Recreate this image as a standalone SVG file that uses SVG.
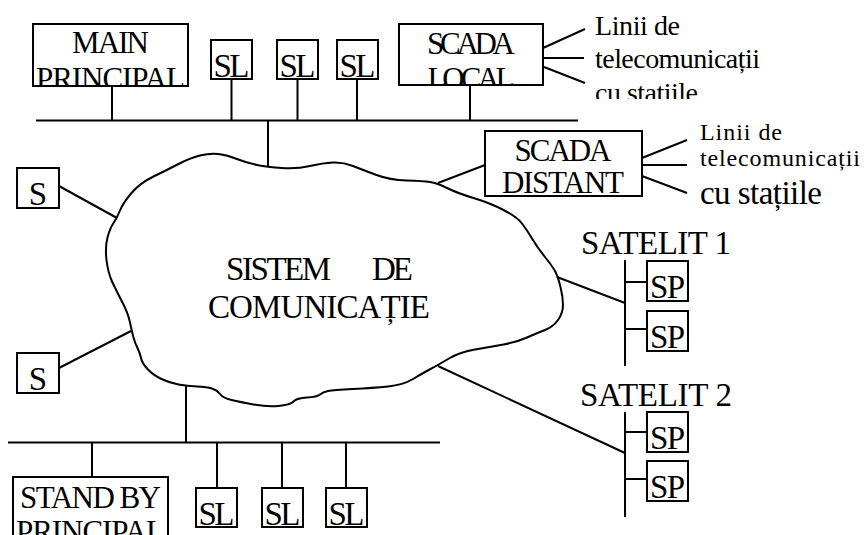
<svg xmlns="http://www.w3.org/2000/svg" width="866" height="535" viewBox="0 0 866 535">
<style>
.box{fill:#fff;stroke:#000;stroke-width:2}
.ln{fill:none;stroke:#000;stroke-width:2}
.t{font-family:"Liberation Serif","Times New Roman",serif;fill:#000}
.big{font-size:33px}
.mid{font-size:31px}
.sm{font-size:28px}
.xs{font-size:24px}
.c{text-anchor:middle}
</style>
<defs>
<clipPath id="clipMain"><rect x="34" y="25" width="153" height="60"/></clipPath>
<clipPath id="clipLocal"><rect x="400" y="25" width="142" height="59"/></clipPath>
<clipPath id="clipLines1"><rect x="590" y="0" width="200" height="99"/></clipPath>
<clipPath id="clipStand"><rect x="14" y="478" width="153" height="60"/></clipPath>
</defs>
<rect width="866" height="535" fill="#fff"/>

<g id="connectors">
<path class="ln" d="M36 120.5H578"/>
<path class="ln" d="M112 86V120M231.5 79V120M297.5 79V120M357 79V120M470 85V120M268 120V167"/>
<path class="ln" d="M543 48L585 29M543 58H584M544 67L585 83"/>
<path class="ln" d="M485 165L438 183"/>
<path class="ln" d="M642 158L687 140M642 165H687M642 176L687 193"/>
<path class="ln" d="M59 186L117 218M59 368L131 331"/>
<path class="ln" d="M8 442.5H440"/>
<path class="ln" d="M186 386V442M92 442V477M217 442V488M282 442V488M346 442V488"/>
<path class="ln" d="M557 277L625 303M438 366L625 453"/>
<path class="ln" d="M625 260V366M625 282H647M625 329H647"/>
<path class="ln" d="M625 412V517M625 432H647M625 479H647"/>
</g>

<g id="main-principal">
<rect class="box" x="33" y="24" width="155" height="62"/>
<g clip-path="url(#clipMain)">
<text class="t mid c" x="110.5" y="53" textLength="77">MAIN</text>
<text class="t mid c" x="110.5" y="89" textLength="149">PRINCIPAL</text>
</g>
</g>
<g id="sl-top-1"><rect class="box" x="211" y="40" width="41" height="39"/><text class="t big c" x="231.5" y="77" textLength="36">SL</text></g>
<g id="sl-top-2"><rect class="box" x="277" y="40" width="41" height="39"/><text class="t big c" x="297.5" y="77" textLength="36">SL</text></g>
<g id="sl-top-3"><rect class="box" x="337" y="40" width="41" height="39"/><text class="t big c" x="357.5" y="77" textLength="36">SL</text></g>

<g id="scada-local">
<rect class="box" x="399" y="24" width="144" height="61"/>
<g clip-path="url(#clipLocal)">
<text class="t mid c" x="471" y="54" textLength="88">SCADA</text>
<text class="t mid c" x="471" y="89" textLength="87">LOCAL</text>
</g>
</g>
<g id="telecom-local">
<text class="t sm" x="595" y="35" textLength="85">Linii de</text>
<text class="t sm" x="595" y="68" textLength="165">telecomunicații</text>
<text class="t sm" x="595" y="102" textLength="103" clip-path="url(#clipLines1)">cu stațiile</text>
</g>

<g id="scada-distant">
<rect class="box" x="485" y="131" width="157" height="65"/>
<text class="t mid c" x="563" y="161" textLength="97">SCADA</text>
<text class="t mid c" x="563" y="193" textLength="122">DISTANT</text>
</g>
<g id="telecom-distant">
<text class="t xs" x="700" y="140" textLength="82">Linii de</text>
<text class="t xs" x="700" y="166" textLength="160">telecomunicații</text>
<text class="t big" x="700" y="204" textLength="122">cu stațiile</text>
</g>

<g id="sistem-comunicatie">
<path class="ln" d="M113.5 223Q117 218 120 210.5Q123 203 131.5 193Q140 183 153.5 176.5Q167 170 178.5 164Q190 158 200 155.5Q210 153 218.5 154Q227 155 237 159Q247 163 257 165Q267 167 282 168Q297 169 310 166Q323 163 333 162.5Q343 162 353 166Q363 170 376.5 175Q390 180 406.5 180.5Q423 181 430 182Q437 183 447 188Q457 193 473.5 198Q490 203 503.5 210Q517 217 522 223.5Q527 230 532 238.5Q537 247 545 257Q553 267 555.5 272Q558 277 560.5 287Q563 297 563 305Q563 313 558 320Q553 327 545 330Q537 333 527 337.5Q517 342 503.5 344.5Q490 347 475 349.5Q460 352 449 358.5Q438 365 430.5 369Q423 373 413 379Q403 385 388 386.5Q373 388 353 389Q333 390 328 391Q323 392 320 394.5Q317 397 307 397.5Q297 398 293.5 401.5Q290 405 278.5 406Q267 407 253.5 404.5Q240 402 231.5 400Q223 398 220 394Q217 390 212 388.5Q207 387 197 386.5Q187 386 178.5 384.5Q170 383 161.5 379Q153 375 147.5 369Q142 363 141 358Q140 353 137.5 348Q135 343 133.5 337.5Q132 332 130 322.5Q128 313 122.5 302.5Q117 292 112.5 282.5Q108 273 106.5 260Q105 247 107.5 237.5Q110 228 113.5 223Z"/>
<text class="t big"><tspan x="226" y="280" textLength="111">SISTEM </tspan><tspan x="372" y="280" textLength="41">DE</tspan></text>
<text class="t big" x="208" y="318" textLength="222">COMUNICAȚIE</text>
</g>

<g id="s-left-1"><rect class="box" x="17" y="168" width="42" height="40"/><text class="t big c" x="38" y="205">S</text></g>
<g id="s-left-2"><rect class="box" x="17" y="353" width="42" height="40"/><text class="t big c" x="38" y="390">S</text></g>

<g id="stand-by-principal">
<rect class="box" x="13" y="477" width="155" height="70"/>
<g clip-path="url(#clipStand)">
<text class="t mid c" x="90.5" y="508" textLength="141">STAND BY</text>
<text class="t mid c" x="90.5" y="542" textLength="149">PRINCIPAL</text>
</g>
</g>
<g id="sl-bottom-1"><rect class="box" x="196" y="488" width="41" height="39"/><text class="t big c" x="216.5" y="525" textLength="36">SL</text></g>
<g id="sl-bottom-2"><rect class="box" x="262" y="488" width="41" height="39"/><text class="t big c" x="282.5" y="525" textLength="36">SL</text></g>
<g id="sl-bottom-3"><rect class="box" x="326" y="488" width="41" height="39"/><text class="t big c" x="346.5" y="525" textLength="36">SL</text></g>

<g id="satelit-1">
<text class="t big" x="581" y="254" textLength="150">SATELIT 1</text>
<g id="sp-1-1"><rect class="box" x="647" y="261" width="41" height="40"/><text class="t big c" x="667.5" y="298" textLength="35">SP</text></g>
<g id="sp-1-2"><rect class="box" x="647" y="311" width="41" height="40"/><text class="t big c" x="667.5" y="348" textLength="35">SP</text></g>
</g>
<g id="satelit-2">
<text class="t big" x="580" y="406" textLength="152">SATELIT 2</text>
<g id="sp-2-1"><rect class="box" x="647" y="412" width="41" height="40"/><text class="t big c" x="667.5" y="449" textLength="35">SP</text></g>
<g id="sp-2-2"><rect class="box" x="647" y="461" width="41" height="40"/><text class="t big c" x="667.5" y="498" textLength="35">SP</text></g>
</g>
</svg>
